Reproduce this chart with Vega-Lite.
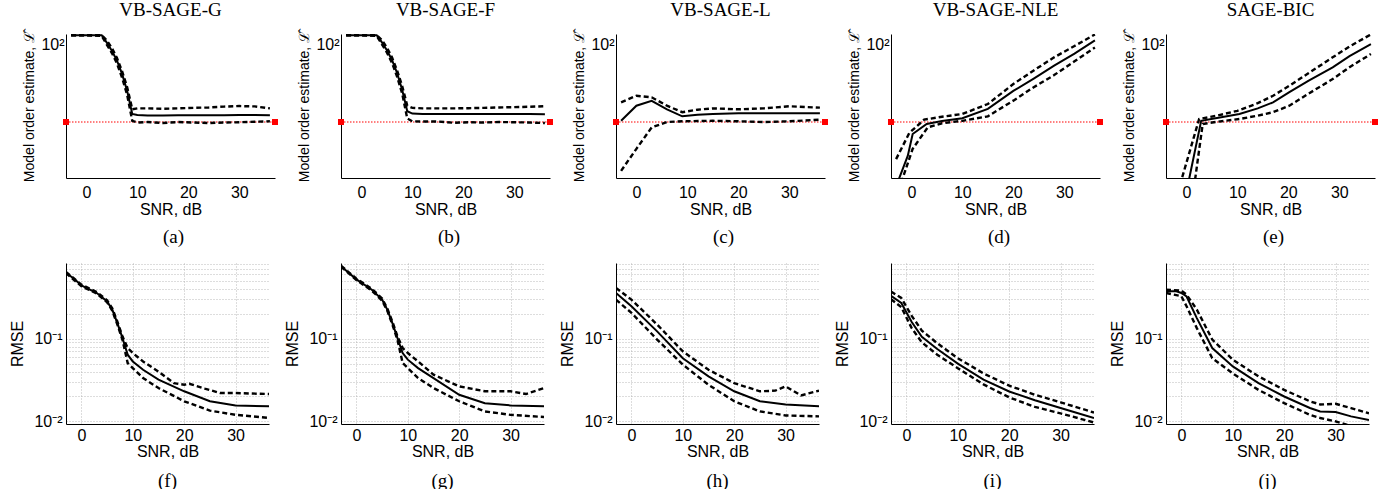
{
"$schema": "https://vega.github.io/schema/vega-lite/v6.json",
"padding": {"left": 9, "top": 1, "right": 0, "bottom": 0},
"background": "white",
"config": {
  "view": {"stroke": null},
  "axis": {"domainColor": "black", "domainWidth": 1, "labelColor": "black", "titleColor": "black", "labelFont": "Liberation Sans", "titleFont": "Liberation Sans", "labelFontSize": 16, "titleFontSize": 16, "titleFontWeight": "normal", "gridColor": "#aaaaaa", "gridDash": [1, 2], "gridWidth": 0.8},
  "title": {"font": "Liberation Serif", "fontSize": 19, "fontWeight": "normal", "color": "black", "anchor": "middle", "frame": "group"}
},
"datasets": {
  "ref": [{"x": -4, "y": 20}, {"x": 37, "y": 20}],
  "top": [
    {"p":"a","s":"m","x":-3,"y":120},{"p":"a","s":"m","x":0,"y":120},{"p":"a","s":"m","x":3,"y":120},{"p":"a","s":"m","x":4,"y":103},{"p":"a","s":"m","x":5,"y":87},{"p":"a","s":"m","x":6,"y":71},{"p":"a","s":"m","x":7,"y":54},{"p":"a","s":"m","x":8,"y":38},{"p":"a","s":"m","x":9,"y":23.6},{"p":"a","s":"m","x":10,"y":23.1},{"p":"a","s":"m","x":12,"y":22.9},{"p":"a","s":"m","x":15,"y":22.9},{"p":"a","s":"m","x":18,"y":23},{"p":"a","s":"m","x":21,"y":23},{"p":"a","s":"m","x":24,"y":23},{"p":"a","s":"m","x":27,"y":23},{"p":"a","s":"m","x":30,"y":23.1},{"p":"a","s":"m","x":33,"y":23.1},{"p":"a","s":"m","x":36,"y":23},
    {"p":"a","s":"h","x":-3,"y":120},{"p":"a","s":"h","x":0,"y":120},{"p":"a","s":"h","x":3,"y":120},{"p":"a","s":"h","x":4,"y":108},{"p":"a","s":"h","x":5,"y":92},{"p":"a","s":"h","x":6,"y":75},{"p":"a","s":"h","x":7,"y":57},{"p":"a","s":"h","x":8,"y":41},{"p":"a","s":"h","x":9,"y":26},{"p":"a","s":"h","x":10,"y":26.5},{"p":"a","s":"h","x":12,"y":26.5},{"p":"a","s":"h","x":15,"y":26.3},{"p":"a","s":"h","x":18,"y":26.5},{"p":"a","s":"h","x":21,"y":26.8},{"p":"a","s":"h","x":24,"y":27},{"p":"a","s":"h","x":27,"y":27.5},{"p":"a","s":"h","x":30,"y":27.8},{"p":"a","s":"h","x":33,"y":27.6},{"p":"a","s":"h","x":36,"y":26.5},
    {"p":"a","s":"l","x":-3,"y":120},{"p":"a","s":"l","x":0,"y":120},{"p":"a","s":"l","x":3,"y":118},{"p":"a","s":"l","x":4,"y":99},{"p":"a","s":"l","x":5,"y":83},{"p":"a","s":"l","x":6,"y":67},{"p":"a","s":"l","x":7,"y":50},{"p":"a","s":"l","x":8,"y":35},{"p":"a","s":"l","x":9,"y":20.5},{"p":"a","s":"l","x":10,"y":19.8},{"p":"a","s":"l","x":12,"y":20},{"p":"a","s":"l","x":15,"y":19.6},{"p":"a","s":"l","x":18,"y":20},{"p":"a","s":"l","x":21,"y":19.8},{"p":"a","s":"l","x":24,"y":19.6},{"p":"a","s":"l","x":27,"y":19.8},{"p":"a","s":"l","x":30,"y":19.9},{"p":"a","s":"l","x":33,"y":20.1},{"p":"a","s":"l","x":36,"y":20.3},
    {"p":"b","s":"m","x":-3,"y":120},{"p":"b","s":"m","x":0,"y":120},{"p":"b","s":"m","x":3,"y":120},{"p":"b","s":"m","x":4,"y":104},{"p":"b","s":"m","x":5,"y":88},{"p":"b","s":"m","x":6,"y":72},{"p":"b","s":"m","x":7,"y":55},{"p":"b","s":"m","x":8,"y":39},{"p":"b","s":"m","x":9,"y":25},{"p":"b","s":"m","x":10,"y":23.8},{"p":"b","s":"m","x":12,"y":23.6},{"p":"b","s":"m","x":15,"y":23.6},{"p":"b","s":"m","x":18,"y":23.6},{"p":"b","s":"m","x":21,"y":23.6},{"p":"b","s":"m","x":24,"y":23.6},{"p":"b","s":"m","x":27,"y":23.6},{"p":"b","s":"m","x":30,"y":23.6},{"p":"b","s":"m","x":33,"y":23.6},{"p":"b","s":"m","x":36,"y":23.5},
    {"p":"b","s":"h","x":-3,"y":120},{"p":"b","s":"h","x":0,"y":120},{"p":"b","s":"h","x":3,"y":120},{"p":"b","s":"h","x":4,"y":109},{"p":"b","s":"h","x":5,"y":93},{"p":"b","s":"h","x":6,"y":76},{"p":"b","s":"h","x":7,"y":58},{"p":"b","s":"h","x":8,"y":42},{"p":"b","s":"h","x":9,"y":28},{"p":"b","s":"h","x":10,"y":26.8},{"p":"b","s":"h","x":12,"y":26.5},{"p":"b","s":"h","x":15,"y":26.5},{"p":"b","s":"h","x":18,"y":26.5},{"p":"b","s":"h","x":21,"y":26.6},{"p":"b","s":"h","x":24,"y":26.8},{"p":"b","s":"h","x":27,"y":27},{"p":"b","s":"h","x":30,"y":27.2},{"p":"b","s":"h","x":33,"y":27.4},{"p":"b","s":"h","x":36,"y":27.7},
    {"p":"b","s":"l","x":-3,"y":120},{"p":"b","s":"l","x":0,"y":120},{"p":"b","s":"l","x":3,"y":118},{"p":"b","s":"l","x":4,"y":100},{"p":"b","s":"l","x":5,"y":84},{"p":"b","s":"l","x":6,"y":68},{"p":"b","s":"l","x":7,"y":51},{"p":"b","s":"l","x":8,"y":36},{"p":"b","s":"l","x":9,"y":21.5},{"p":"b","s":"l","x":10,"y":20.3},{"p":"b","s":"l","x":12,"y":20.2},{"p":"b","s":"l","x":15,"y":20.2},{"p":"b","s":"l","x":18,"y":19.7},{"p":"b","s":"l","x":21,"y":19.9},{"p":"b","s":"l","x":24,"y":19.8},{"p":"b","s":"l","x":27,"y":20},{"p":"b","s":"l","x":30,"y":19.9},{"p":"b","s":"l","x":33,"y":19.8},{"p":"b","s":"l","x":36,"y":19.6},
    {"p":"c","s":"m","x":-3,"y":20.5},{"p":"c","s":"m","x":0,"y":28},{"p":"c","s":"m","x":3,"y":31},{"p":"c","s":"m","x":6,"y":26},{"p":"c","s":"m","x":9,"y":22.5},{"p":"c","s":"m","x":12,"y":23.2},{"p":"c","s":"m","x":15,"y":23.6},{"p":"c","s":"m","x":20,"y":24},{"p":"c","s":"m","x":25,"y":24},{"p":"c","s":"m","x":30,"y":24},{"p":"c","s":"m","x":36,"y":24},
    {"p":"c","s":"h","x":-3,"y":30},{"p":"c","s":"h","x":0,"y":34.4},{"p":"c","s":"h","x":3,"y":33.3},{"p":"c","s":"h","x":6,"y":28},{"p":"c","s":"h","x":9,"y":24.5},{"p":"c","s":"h","x":12,"y":25.8},{"p":"c","s":"h","x":15,"y":26.5},{"p":"c","s":"h","x":20,"y":26},{"p":"c","s":"h","x":25,"y":26.5},{"p":"c","s":"h","x":30,"y":27.7},{"p":"c","s":"h","x":36,"y":26.9},
    {"p":"c","s":"l","x":-3,"y":7.3},{"p":"c","s":"l","x":0,"y":11.5},{"p":"c","s":"l","x":3,"y":17.9},{"p":"c","s":"l","x":6,"y":20},{"p":"c","s":"l","x":9,"y":20.3},{"p":"c","s":"l","x":15,"y":20.5},{"p":"c","s":"l","x":20,"y":20.3},{"p":"c","s":"l","x":25,"y":20},{"p":"c","s":"l","x":30,"y":20.3},{"p":"c","s":"l","x":36,"y":21},
    {"p":"d","s":"m","x":-3,"y":5.3},{"p":"d","s":"m","x":-0.7,"y":10},{"p":"d","s":"m","x":0.25,"y":15.6},{"p":"d","s":"m","x":3,"y":19.2},{"p":"d","s":"m","x":6,"y":20.4},{"p":"d","s":"m","x":10,"y":21.6},{"p":"d","s":"m","x":15,"y":26.2},{"p":"d","s":"m","x":20,"y":38},{"p":"d","s":"m","x":24,"y":49},{"p":"d","s":"m","x":28,"y":64},{"p":"d","s":"m","x":32,"y":82},{"p":"d","s":"m","x":36,"y":108},
    {"p":"d","s":"h","x":-3,"y":9.3},{"p":"d","s":"h","x":-0.4,"y":16},{"p":"d","s":"h","x":2.5,"y":21},{"p":"d","s":"h","x":6,"y":22.3},{"p":"d","s":"h","x":10,"y":23.6},{"p":"d","s":"h","x":15,"y":29},{"p":"d","s":"h","x":20,"y":43.8},{"p":"d","s":"h","x":24,"y":58},{"p":"d","s":"h","x":28,"y":76},{"p":"d","s":"h","x":32,"y":96},{"p":"d","s":"h","x":36,"y":122},
    {"p":"d","s":"l","x":-3,"y":4.2},{"p":"d","s":"l","x":0.25,"y":11.5},{"p":"d","s":"l","x":3.2,"y":17.9},{"p":"d","s":"l","x":6,"y":19.5},{"p":"d","s":"l","x":10,"y":20.5},{"p":"d","s":"l","x":15,"y":22.5},{"p":"d","s":"l","x":20,"y":31.1},{"p":"d","s":"l","x":24,"y":41},{"p":"d","s":"l","x":28,"y":52.7},{"p":"d","s":"l","x":32,"y":70},{"p":"d","s":"l","x":36,"y":93},
    {"p":"e","s":"m","x":0,"y":4.7},{"p":"e","s":"m","x":2.9,"y":20.5},{"p":"e","s":"m","x":6,"y":21.7},{"p":"e","s":"m","x":10.4,"y":23.6},{"p":"e","s":"m","x":14,"y":26.5},{"p":"e","s":"m","x":17,"y":30},{"p":"e","s":"m","x":20.2,"y":37},{"p":"e","s":"m","x":24,"y":47},{"p":"e","s":"m","x":28.7,"y":61.8},{"p":"e","s":"m","x":32,"y":78},{"p":"e","s":"m","x":36.2,"y":100},
    {"p":"e","s":"h","x":-3,"y":2.9},{"p":"e","s":"h","x":2.5,"y":21.3},{"p":"e","s":"h","x":6,"y":22.8},{"p":"e","s":"h","x":10,"y":25.2},{"p":"e","s":"h","x":14,"y":29.5},{"p":"e","s":"h","x":17,"y":34.4},{"p":"e","s":"h","x":20.2,"y":42.3},{"p":"e","s":"h","x":24,"y":55},{"p":"e","s":"h","x":28.7,"y":76},{"p":"e","s":"h","x":32,"y":95},{"p":"e","s":"h","x":36.2,"y":122},
    {"p":"e","s":"l","x":0,"y":1.65},{"p":"e","s":"l","x":3.2,"y":19.2},{"p":"e","s":"l","x":6,"y":20.1},{"p":"e","s":"l","x":10.4,"y":21.3},{"p":"e","s":"l","x":14,"y":22.8},{"p":"e","s":"l","x":17,"y":24.5},{"p":"e","s":"l","x":20.2,"y":28},{"p":"e","s":"l","x":24,"y":36},{"p":"e","s":"l","x":28.7,"y":48.5},{"p":"e","s":"l","x":32,"y":62},{"p":"e","s":"l","x":36.2,"y":81.4}
  ],
  "bot": [
    {"p":"f","s":"m","x":-3,"y":0.63},{"p":"f","s":"m","x":-1,"y":0.5},{"p":"f","s":"m","x":0,"y":0.44},{"p":"f","s":"m","x":3,"y":0.356},{"p":"f","s":"m","x":5,"y":0.282},{"p":"f","s":"m","x":6,"y":0.224},{"p":"f","s":"m","x":7,"y":0.154},{"p":"f","s":"m","x":8,"y":0.101},{"p":"f","s":"m","x":9,"y":0.064},{"p":"f","s":"m","x":10,"y":0.053},{"p":"f","s":"m","x":12,"y":0.042},{"p":"f","s":"m","x":15,"y":0.032},{"p":"f","s":"m","x":20,"y":0.0231},{"p":"f","s":"m","x":25,"y":0.0175},{"p":"f","s":"m","x":30,"y":0.0156},{"p":"f","s":"m","x":36.5,"y":0.0152},
    {"p":"f","s":"h","x":-3,"y":0.64},{"p":"f","s":"h","x":0,"y":0.45},{"p":"f","s":"h","x":3,"y":0.365},{"p":"f","s":"h","x":5,"y":0.29},{"p":"f","s":"h","x":6,"y":0.232},{"p":"f","s":"h","x":7,"y":0.16},{"p":"f","s":"h","x":8,"y":0.106},{"p":"f","s":"h","x":9,"y":0.077},{"p":"f","s":"h","x":10,"y":0.067},{"p":"f","s":"h","x":12,"y":0.053},{"p":"f","s":"h","x":15,"y":0.04},{"p":"f","s":"h","x":18,"y":0.029},{"p":"f","s":"h","x":20,"y":0.0277},{"p":"f","s":"h","x":21,"y":0.0285},{"p":"f","s":"h","x":24,"y":0.0249},{"p":"f","s":"h","x":27,"y":0.022},{"p":"f","s":"h","x":30,"y":0.022},{"p":"f","s":"h","x":36.5,"y":0.0214},
    {"p":"f","s":"l","x":-3,"y":0.62},{"p":"f","s":"l","x":0,"y":0.43},{"p":"f","s":"l","x":3,"y":0.35},{"p":"f","s":"l","x":5,"y":0.275},{"p":"f","s":"l","x":6,"y":0.218},{"p":"f","s":"l","x":7,"y":0.148},{"p":"f","s":"l","x":8,"y":0.096},{"p":"f","s":"l","x":9,"y":0.0507},{"p":"f","s":"l","x":10,"y":0.0441},{"p":"f","s":"l","x":12,"y":0.0334},{"p":"f","s":"l","x":15,"y":0.0253},{"p":"f","s":"l","x":20,"y":0.0175},{"p":"f","s":"l","x":25,"y":0.0135},{"p":"f","s":"l","x":30,"y":0.012},{"p":"f","s":"l","x":36.5,"y":0.011},
    {"p":"g","s":"m","x":-3,"y":0.75},{"p":"g","s":"m","x":0,"y":0.52},{"p":"g","s":"m","x":3,"y":0.39},{"p":"g","s":"m","x":5,"y":0.296},{"p":"g","s":"m","x":6,"y":0.224},{"p":"g","s":"m","x":7,"y":0.154},{"p":"g","s":"m","x":8,"y":0.101},{"p":"g","s":"m","x":9,"y":0.067},{"p":"g","s":"m","x":10,"y":0.0557},{"p":"g","s":"m","x":12,"y":0.044},{"p":"g","s":"m","x":15,"y":0.0334},{"p":"g","s":"m","x":20,"y":0.021},{"p":"g","s":"m","x":25,"y":0.0166},{"p":"g","s":"m","x":30,"y":0.0156},{"p":"g","s":"m","x":36.5,"y":0.0152},
    {"p":"g","s":"h","x":-3,"y":0.76},{"p":"g","s":"h","x":0,"y":0.53},{"p":"g","s":"h","x":3,"y":0.4},{"p":"g","s":"h","x":5,"y":0.305},{"p":"g","s":"h","x":6,"y":0.232},{"p":"g","s":"h","x":7,"y":0.16},{"p":"g","s":"h","x":8,"y":0.106},{"p":"g","s":"h","x":9,"y":0.077},{"p":"g","s":"h","x":10,"y":0.067},{"p":"g","s":"h","x":12,"y":0.053},{"p":"g","s":"h","x":15,"y":0.0367},{"p":"g","s":"h","x":20,"y":0.0265},{"p":"g","s":"h","x":25,"y":0.0231},{"p":"g","s":"h","x":30,"y":0.0231},{"p":"g","s":"h","x":33,"y":0.0214},{"p":"g","s":"h","x":36.5,"y":0.0253},
    {"p":"g","s":"l","x":-3,"y":0.74},{"p":"g","s":"l","x":0,"y":0.51},{"p":"g","s":"l","x":3,"y":0.38},{"p":"g","s":"l","x":5,"y":0.288},{"p":"g","s":"l","x":6,"y":0.218},{"p":"g","s":"l","x":7,"y":0.148},{"p":"g","s":"l","x":8,"y":0.096},{"p":"g","s":"l","x":9,"y":0.0507},{"p":"g","s":"l","x":10,"y":0.0441},{"p":"g","s":"l","x":12,"y":0.0334},{"p":"g","s":"l","x":15,"y":0.0253},{"p":"g","s":"l","x":20,"y":0.0175},{"p":"g","s":"l","x":25,"y":0.0132},{"p":"g","s":"l","x":30,"y":0.012},{"p":"g","s":"l","x":36.5,"y":0.0113},
    {"p":"h","s":"m","x":-3,"y":0.356},{"p":"h","s":"m","x":0,"y":0.246},{"p":"h","s":"m","x":5,"y":0.1225},{"p":"h","s":"m","x":10,"y":0.058},{"p":"h","s":"m","x":15,"y":0.035},{"p":"h","s":"m","x":20,"y":0.0231},{"p":"h","s":"m","x":25,"y":0.0175},{"p":"h","s":"m","x":30,"y":0.016},{"p":"h","s":"m","x":36.5,"y":0.0152},
    {"p":"h","s":"h","x":-3,"y":0.41},{"p":"h","s":"h","x":0,"y":0.296},{"p":"h","s":"h","x":5,"y":0.148},{"p":"h","s":"h","x":10,"y":0.0702},{"p":"h","s":"h","x":15,"y":0.042},{"p":"h","s":"h","x":20,"y":0.029},{"p":"h","s":"h","x":25,"y":0.0231},{"p":"h","s":"h","x":28,"y":0.0235},{"p":"h","s":"h","x":30,"y":0.0265},{"p":"h","s":"h","x":33,"y":0.0206},{"p":"h","s":"h","x":36.5,"y":0.0235},
    {"p":"h","s":"l","x":-3,"y":0.296},{"p":"h","s":"l","x":0,"y":0.205},{"p":"h","s":"l","x":5,"y":0.0975},{"p":"h","s":"l","x":10,"y":0.0485},{"p":"h","s":"l","x":15,"y":0.0277},{"p":"h","s":"l","x":20,"y":0.0175},{"p":"h","s":"l","x":25,"y":0.0132},{"p":"h","s":"l","x":30,"y":0.0118},{"p":"h","s":"l","x":36.5,"y":0.0115},
    {"p":"i","s":"m","x":-3,"y":0.33},{"p":"i","s":"m","x":-1,"y":0.27},{"p":"i","s":"m","x":1,"y":0.16},{"p":"i","s":"m","x":3,"y":0.105},{"p":"i","s":"m","x":6,"y":0.075},{"p":"i","s":"m","x":10,"y":0.05},{"p":"i","s":"m","x":15,"y":0.032},{"p":"i","s":"m","x":20,"y":0.023},{"p":"i","s":"m","x":25,"y":0.018},{"p":"i","s":"m","x":30,"y":0.0145},{"p":"i","s":"m","x":36.5,"y":0.011},
    {"p":"i","s":"h","x":-3,"y":0.37},{"p":"i","s":"h","x":-1,"y":0.31},{"p":"i","s":"h","x":1,"y":0.19},{"p":"i","s":"h","x":3,"y":0.125},{"p":"i","s":"h","x":6,"y":0.088},{"p":"i","s":"h","x":10,"y":0.058},{"p":"i","s":"h","x":15,"y":0.038},{"p":"i","s":"h","x":20,"y":0.027},{"p":"i","s":"h","x":25,"y":0.021},{"p":"i","s":"h","x":30,"y":0.017},{"p":"i","s":"h","x":36.5,"y":0.0128},
    {"p":"i","s":"l","x":-3,"y":0.3},{"p":"i","s":"l","x":-1,"y":0.24},{"p":"i","s":"l","x":1,"y":0.135},{"p":"i","s":"l","x":3,"y":0.09},{"p":"i","s":"l","x":6,"y":0.064},{"p":"i","s":"l","x":10,"y":0.044},{"p":"i","s":"l","x":15,"y":0.028},{"p":"i","s":"l","x":20,"y":0.0195},{"p":"i","s":"l","x":25,"y":0.015},{"p":"i","s":"l","x":30,"y":0.0125},{"p":"i","s":"l","x":36.5,"y":0.0097},
    {"p":"j","s":"m","x":-3,"y":0.373},{"p":"j","s":"m","x":-1,"y":0.373},{"p":"j","s":"m","x":0,"y":0.356},{"p":"j","s":"m","x":1,"y":0.323},{"p":"j","s":"m","x":3,"y":0.177},{"p":"j","s":"m","x":6,"y":0.077},{"p":"j","s":"m","x":10,"y":0.0462},{"p":"j","s":"m","x":15,"y":0.029},{"p":"j","s":"m","x":20,"y":0.02},{"p":"j","s":"m","x":25,"y":0.0145},{"p":"j","s":"m","x":27,"y":0.0132},{"p":"j","s":"m","x":30,"y":0.013},{"p":"j","s":"m","x":33,"y":0.0115},{"p":"j","s":"m","x":36.5,"y":0.0104},
    {"p":"j","s":"h","x":-3,"y":0.39},{"p":"j","s":"h","x":0,"y":0.38},{"p":"j","s":"h","x":1,"y":0.34},{"p":"j","s":"h","x":3,"y":0.224},{"p":"j","s":"h","x":6,"y":0.0975},{"p":"j","s":"h","x":10,"y":0.0557},{"p":"j","s":"h","x":15,"y":0.035},{"p":"j","s":"h","x":20,"y":0.024},{"p":"j","s":"h","x":25,"y":0.0175},{"p":"j","s":"h","x":27,"y":0.016},{"p":"j","s":"h","x":30,"y":0.0163},{"p":"j","s":"h","x":33,"y":0.0145},{"p":"j","s":"h","x":36.5,"y":0.0125},
    {"p":"j","s":"l","x":-3,"y":0.356},{"p":"j","s":"l","x":0,"y":0.325},{"p":"j","s":"l","x":1,"y":0.246},{"p":"j","s":"l","x":3,"y":0.134},{"p":"j","s":"l","x":6,"y":0.058},{"p":"j","s":"l","x":10,"y":0.038},{"p":"j","s":"l","x":15,"y":0.024},{"p":"j","s":"l","x":20,"y":0.0166},{"p":"j","s":"l","x":25,"y":0.012},{"p":"j","s":"l","x":27,"y":0.011},{"p":"j","s":"l","x":30,"y":0.01},{"p":"j","s":"l","x":33,"y":0.0088}
  ]
},
"columns": 1,
"align": "none",
"spacing": 8,
"concat": [
  {"spacing": 18, "hconcat": [
    {"title": {"text": "(a)", "orient": "bottom", "anchor": "start", "frame": "group", "dx": 97, "offset": 11}, "vconcat": [{
      "width": 209, "height": 144, "title": {"text": "VB-SAGE-G", "baseline": "alphabetic", "offset": -5},
      "encoding": {"x": {"field": "x", "type": "quantitative", "scale": {"domain": [-4, 37], "nice": false, "zero": false}, "axis": {"values": [0, 10, 20, 30], "title": "SNR, dB", "grid": false, "ticks": false, "labelPadding": 6, "titlePadding": 1}},
        "y": {"field": "y", "type": "quantitative", "scale": {"type": "log", "domain": [6.3, 123], "nice": false}, "axis": {"values": [100], "labelExpr": "'10²'", "title": "Model order estimate, ℒ̂", "titleFontSize": 14, "grid": false, "ticks": false, "labelPadding": 2, "titlePadding": 3, "minExtent": 27, "maxExtent": 27}}},
      "layer": [
        {"data": {"name": "ref"}, "mark": {"type": "line", "color": "#ff0000", "strokeDash": [1.5, 1.5], "strokeWidth": 1.2}, "encoding": {}},
        {"data": {"name": "ref"}, "mark": {"type": "point", "shape": "square", "filled": true, "color": "#ff0000", "size": 36, "opacity": 1}, "encoding": {}},
        {"data": {"name": "top"}, "transform": [{"filter": "datum.p=='a' && datum.s=='m'"}], "mark": {"type": "line", "color": "black", "strokeWidth": 2, "clip": true}, "encoding": {}},
        {"data": {"name": "top"}, "transform": [{"filter": "datum.p=='a' && datum.s!='m'"}], "mark": {"type": "line", "color": "black", "strokeWidth": 2.4, "strokeDash": [5, 3], "clip": true}, "encoding": {"detail": {"field": "s"}}}
      ]}]},
    {"title": {"text": "(b)", "orient": "bottom", "anchor": "start", "frame": "group", "dx": 97, "offset": 11}, "vconcat": [{
      "width": 209, "height": 144, "title": {"text": "VB-SAGE-F", "baseline": "alphabetic", "offset": -5},
      "encoding": {"x": {"field": "x", "type": "quantitative", "scale": {"domain": [-4, 37], "nice": false, "zero": false}, "axis": {"values": [0, 10, 20, 30], "title": "SNR, dB", "grid": false, "ticks": false, "labelPadding": 6, "titlePadding": 1}},
        "y": {"field": "y", "type": "quantitative", "scale": {"type": "log", "domain": [6.3, 123], "nice": false}, "axis": {"values": [100], "labelExpr": "'10²'", "title": "Model order estimate, ℒ̂", "titleFontSize": 14, "grid": false, "ticks": false, "labelPadding": 2, "titlePadding": 3, "minExtent": 27, "maxExtent": 27}}},
      "layer": [
        {"data": {"name": "ref"}, "mark": {"type": "line", "color": "#ff0000", "strokeDash": [1.5, 1.5], "strokeWidth": 1.2}, "encoding": {}},
        {"data": {"name": "ref"}, "mark": {"type": "point", "shape": "square", "filled": true, "color": "#ff0000", "size": 36, "opacity": 1}, "encoding": {}},
        {"data": {"name": "top"}, "transform": [{"filter": "datum.p=='b' && datum.s=='m'"}], "mark": {"type": "line", "color": "black", "strokeWidth": 2, "clip": true}, "encoding": {}},
        {"data": {"name": "top"}, "transform": [{"filter": "datum.p=='b' && datum.s!='m'"}], "mark": {"type": "line", "color": "black", "strokeWidth": 2.4, "strokeDash": [5, 3], "clip": true}, "encoding": {"detail": {"field": "s"}}}
      ]}]},
    {"title": {"text": "(c)", "orient": "bottom", "anchor": "start", "frame": "group", "dx": 97, "offset": 11}, "vconcat": [{
      "width": 209, "height": 144, "title": {"text": "VB-SAGE-L", "baseline": "alphabetic", "offset": -5},
      "encoding": {"x": {"field": "x", "type": "quantitative", "scale": {"domain": [-4, 37], "nice": false, "zero": false}, "axis": {"values": [0, 10, 20, 30], "title": "SNR, dB", "grid": false, "ticks": false, "labelPadding": 6, "titlePadding": 1}},
        "y": {"field": "y", "type": "quantitative", "scale": {"type": "log", "domain": [6.3, 123], "nice": false}, "axis": {"values": [100], "labelExpr": "'10²'", "title": "Model order estimate, ℒ̂", "titleFontSize": 14, "grid": false, "ticks": false, "labelPadding": 2, "titlePadding": 3, "minExtent": 27, "maxExtent": 27}}},
      "layer": [
        {"data": {"name": "ref"}, "mark": {"type": "line", "color": "#ff0000", "strokeDash": [1.5, 1.5], "strokeWidth": 1.2}, "encoding": {}},
        {"data": {"name": "ref"}, "mark": {"type": "point", "shape": "square", "filled": true, "color": "#ff0000", "size": 36, "opacity": 1}, "encoding": {}},
        {"data": {"name": "top"}, "transform": [{"filter": "datum.p=='c' && datum.s=='m'"}], "mark": {"type": "line", "color": "black", "strokeWidth": 2, "clip": true}, "encoding": {}},
        {"data": {"name": "top"}, "transform": [{"filter": "datum.p=='c' && datum.s!='m'"}], "mark": {"type": "line", "color": "black", "strokeWidth": 2.4, "strokeDash": [5, 3], "clip": true}, "encoding": {"detail": {"field": "s"}}}
      ]}]},
    {"title": {"text": "(d)", "orient": "bottom", "anchor": "start", "frame": "group", "dx": 97, "offset": 11}, "vconcat": [{
      "width": 209, "height": 144, "title": {"text": "VB-SAGE-NLE", "baseline": "alphabetic", "offset": -5},
      "encoding": {"x": {"field": "x", "type": "quantitative", "scale": {"domain": [-4, 37], "nice": false, "zero": false}, "axis": {"values": [0, 10, 20, 30], "title": "SNR, dB", "grid": false, "ticks": false, "labelPadding": 6, "titlePadding": 1}},
        "y": {"field": "y", "type": "quantitative", "scale": {"type": "log", "domain": [6.3, 123], "nice": false}, "axis": {"values": [100], "labelExpr": "'10²'", "title": "Model order estimate, ℒ̂", "titleFontSize": 14, "grid": false, "ticks": false, "labelPadding": 2, "titlePadding": 3, "minExtent": 27, "maxExtent": 27}}},
      "layer": [
        {"data": {"name": "ref"}, "mark": {"type": "line", "color": "#ff0000", "strokeDash": [1.5, 1.5], "strokeWidth": 1.2}, "encoding": {}},
        {"data": {"name": "ref"}, "mark": {"type": "point", "shape": "square", "filled": true, "color": "#ff0000", "size": 36, "opacity": 1}, "encoding": {}},
        {"data": {"name": "top"}, "transform": [{"filter": "datum.p=='d' && datum.s=='m'"}], "mark": {"type": "line", "color": "black", "strokeWidth": 2, "clip": true}, "encoding": {}},
        {"data": {"name": "top"}, "transform": [{"filter": "datum.p=='d' && datum.s!='m'"}], "mark": {"type": "line", "color": "black", "strokeWidth": 2.4, "strokeDash": [5, 3], "clip": true}, "encoding": {"detail": {"field": "s"}}}
      ]}]},
    {"title": {"text": "(e)", "orient": "bottom", "anchor": "start", "frame": "group", "dx": 97, "offset": 11}, "vconcat": [{
      "width": 209, "height": 144, "title": {"text": "SAGE-BIC", "baseline": "alphabetic", "offset": -5},
      "encoding": {"x": {"field": "x", "type": "quantitative", "scale": {"domain": [-4, 37], "nice": false, "zero": false}, "axis": {"values": [0, 10, 20, 30], "title": "SNR, dB", "grid": false, "ticks": false, "labelPadding": 6, "titlePadding": 1}},
        "y": {"field": "y", "type": "quantitative", "scale": {"type": "log", "domain": [6.3, 123], "nice": false}, "axis": {"values": [100], "labelExpr": "'10²'", "title": "Model order estimate, ℒ̂", "titleFontSize": 14, "grid": false, "ticks": false, "labelPadding": 2, "titlePadding": 3, "minExtent": 27, "maxExtent": 27}}},
      "layer": [
        {"data": {"name": "ref"}, "mark": {"type": "line", "color": "#ff0000", "strokeDash": [1.5, 1.5], "strokeWidth": 1.2}, "encoding": {}},
        {"data": {"name": "ref"}, "mark": {"type": "point", "shape": "square", "filled": true, "color": "#ff0000", "size": 36, "opacity": 1}, "encoding": {}},
        {"data": {"name": "top"}, "transform": [{"filter": "datum.p=='e' && datum.s=='m'"}], "mark": {"type": "line", "color": "black", "strokeWidth": 2, "clip": true}, "encoding": {}},
        {"data": {"name": "top"}, "transform": [{"filter": "datum.p=='e' && datum.s!='m'"}], "mark": {"type": "line", "color": "black", "strokeWidth": 2.4, "strokeDash": [5, 3], "clip": true}, "encoding": {"detail": {"field": "s"}}}
      ]}]}
  ]},
  {"spacing": 15, "hconcat": [
    {"width": 203, "height": 161, "title": {"text": "(f)", "orient": "bottom", "offset": 13},
      "encoding": {"x": {"field": "x", "type": "quantitative", "scale": {"domain": [-3, 36.5], "nice": false, "zero": false}, "axis": {"values": [0, 10, 20, 30], "title": "SNR, dB", "grid": true, "ticks": false, "labelPadding": 3, "titlePadding": 0}},
        "y": {"field": "y", "type": "quantitative", "scale": {"type": "log", "domain": [0.0093, 0.82], "nice": false}, "axis": {"values": [0.01, 0.02, 0.03, 0.04, 0.05, 0.06, 0.07, 0.08, 0.09, 0.1, 0.2, 0.3, 0.4, 0.5, 0.6, 0.7, 0.8], "labelExpr": "datum.value==0.1 ? '10⁻¹' : (datum.value==0.01 ? '10⁻²' : '')", "labelOverlap": false, "title": "RMSE", "grid": true, "ticks": false, "labelPadding": 4, "titlePadding": 3, "minExtent": 38, "maxExtent": 38}}},
      "layer": [
        {"data": {"name": "bot"}, "transform": [{"filter": "datum.p=='f' && datum.s=='m'"}], "mark": {"type": "line", "color": "black", "strokeWidth": 2, "clip": true}, "encoding": {}},
        {"data": {"name": "bot"}, "transform": [{"filter": "datum.p=='f' && datum.s!='m'"}], "mark": {"type": "line", "color": "black", "strokeWidth": 2.4, "strokeDash": [5, 3], "clip": true}, "encoding": {"detail": {"field": "s"}}}
      ]},
    {"width": 203, "height": 161, "title": {"text": "(g)", "orient": "bottom", "offset": 13},
      "encoding": {"x": {"field": "x", "type": "quantitative", "scale": {"domain": [-3, 36.5], "nice": false, "zero": false}, "axis": {"values": [0, 10, 20, 30], "title": "SNR, dB", "grid": true, "ticks": false, "labelPadding": 3, "titlePadding": 0}},
        "y": {"field": "y", "type": "quantitative", "scale": {"type": "log", "domain": [0.0093, 0.82], "nice": false}, "axis": {"values": [0.01, 0.02, 0.03, 0.04, 0.05, 0.06, 0.07, 0.08, 0.09, 0.1, 0.2, 0.3, 0.4, 0.5, 0.6, 0.7, 0.8], "labelExpr": "datum.value==0.1 ? '10⁻¹' : (datum.value==0.01 ? '10⁻²' : '')", "labelOverlap": false, "title": "RMSE", "grid": true, "ticks": false, "labelPadding": 4, "titlePadding": 3, "minExtent": 38, "maxExtent": 38}}},
      "layer": [
        {"data": {"name": "bot"}, "transform": [{"filter": "datum.p=='g' && datum.s=='m'"}], "mark": {"type": "line", "color": "black", "strokeWidth": 2, "clip": true}, "encoding": {}},
        {"data": {"name": "bot"}, "transform": [{"filter": "datum.p=='g' && datum.s!='m'"}], "mark": {"type": "line", "color": "black", "strokeWidth": 2.4, "strokeDash": [5, 3], "clip": true}, "encoding": {"detail": {"field": "s"}}}
      ]},
    {"width": 203, "height": 161, "title": {"text": "(h)", "orient": "bottom", "offset": 13},
      "encoding": {"x": {"field": "x", "type": "quantitative", "scale": {"domain": [-3, 36.5], "nice": false, "zero": false}, "axis": {"values": [0, 10, 20, 30], "title": "SNR, dB", "grid": true, "ticks": false, "labelPadding": 3, "titlePadding": 0}},
        "y": {"field": "y", "type": "quantitative", "scale": {"type": "log", "domain": [0.0093, 0.82], "nice": false}, "axis": {"values": [0.01, 0.02, 0.03, 0.04, 0.05, 0.06, 0.07, 0.08, 0.09, 0.1, 0.2, 0.3, 0.4, 0.5, 0.6, 0.7, 0.8], "labelExpr": "datum.value==0.1 ? '10⁻¹' : (datum.value==0.01 ? '10⁻²' : '')", "labelOverlap": false, "title": "RMSE", "grid": true, "ticks": false, "labelPadding": 4, "titlePadding": 3, "minExtent": 38, "maxExtent": 38}}},
      "layer": [
        {"data": {"name": "bot"}, "transform": [{"filter": "datum.p=='h' && datum.s=='m'"}], "mark": {"type": "line", "color": "black", "strokeWidth": 2, "clip": true}, "encoding": {}},
        {"data": {"name": "bot"}, "transform": [{"filter": "datum.p=='h' && datum.s!='m'"}], "mark": {"type": "line", "color": "black", "strokeWidth": 2.4, "strokeDash": [5, 3], "clip": true}, "encoding": {"detail": {"field": "s"}}}
      ]},
    {"width": 203, "height": 161, "title": {"text": "(i)", "orient": "bottom", "offset": 13},
      "encoding": {"x": {"field": "x", "type": "quantitative", "scale": {"domain": [-3, 36.5], "nice": false, "zero": false}, "axis": {"values": [0, 10, 20, 30], "title": "SNR, dB", "grid": true, "ticks": false, "labelPadding": 3, "titlePadding": 0}},
        "y": {"field": "y", "type": "quantitative", "scale": {"type": "log", "domain": [0.0093, 0.82], "nice": false}, "axis": {"values": [0.01, 0.02, 0.03, 0.04, 0.05, 0.06, 0.07, 0.08, 0.09, 0.1, 0.2, 0.3, 0.4, 0.5, 0.6, 0.7, 0.8], "labelExpr": "datum.value==0.1 ? '10⁻¹' : (datum.value==0.01 ? '10⁻²' : '')", "labelOverlap": false, "title": "RMSE", "grid": true, "ticks": false, "labelPadding": 4, "titlePadding": 3, "minExtent": 38, "maxExtent": 38}}},
      "layer": [
        {"data": {"name": "bot"}, "transform": [{"filter": "datum.p=='i' && datum.s=='m'"}], "mark": {"type": "line", "color": "black", "strokeWidth": 2, "clip": true}, "encoding": {}},
        {"data": {"name": "bot"}, "transform": [{"filter": "datum.p=='i' && datum.s!='m'"}], "mark": {"type": "line", "color": "black", "strokeWidth": 2.4, "strokeDash": [5, 3], "clip": true}, "encoding": {"detail": {"field": "s"}}}
      ]},
    {"width": 203, "height": 161, "title": {"text": "(j)", "orient": "bottom", "offset": 13},
      "encoding": {"x": {"field": "x", "type": "quantitative", "scale": {"domain": [-3, 36.5], "nice": false, "zero": false}, "axis": {"values": [0, 10, 20, 30], "title": "SNR, dB", "grid": true, "ticks": false, "labelPadding": 3, "titlePadding": 0}},
        "y": {"field": "y", "type": "quantitative", "scale": {"type": "log", "domain": [0.0093, 0.82], "nice": false}, "axis": {"values": [0.01, 0.02, 0.03, 0.04, 0.05, 0.06, 0.07, 0.08, 0.09, 0.1, 0.2, 0.3, 0.4, 0.5, 0.6, 0.7, 0.8], "labelExpr": "datum.value==0.1 ? '10⁻¹' : (datum.value==0.01 ? '10⁻²' : '')", "labelOverlap": false, "title": "RMSE", "grid": true, "ticks": false, "labelPadding": 4, "titlePadding": 3, "minExtent": 38, "maxExtent": 38}}},
      "layer": [
        {"data": {"name": "bot"}, "transform": [{"filter": "datum.p=='j' && datum.s=='m'"}], "mark": {"type": "line", "color": "black", "strokeWidth": 2, "clip": true}, "encoding": {}},
        {"data": {"name": "bot"}, "transform": [{"filter": "datum.p=='j' && datum.s!='m'"}], "mark": {"type": "line", "color": "black", "strokeWidth": 2.4, "strokeDash": [5, 3], "clip": true}, "encoding": {"detail": {"field": "s"}}}
      ]}
  ]}
]
}
